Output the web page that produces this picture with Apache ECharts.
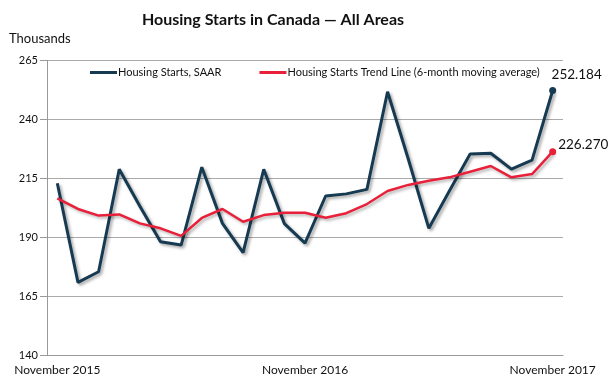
<!DOCTYPE html>
<html>
<head>
<meta charset="utf-8">
<script src="https://cdn.jsdelivr.net/npm/echarts@6/dist/echarts.min.js"></script>
<style>html,body{margin:0;padding:0;background:#fff}#c{width:610px;height:385px}</style>
</head>
<body>
<div id="c"></div>
<script>
const categories = ['Nov 2015','Dec 2015','Jan 2016','Feb 2016','Mar 2016','Apr 2016','May 2016','Jun 2016','Jul 2016','Aug 2016','Sep 2016','Oct 2016','Nov 2016','Dec 2016','Jan 2017','Feb 2017','Mar 2017','Apr 2017','May 2017','Jun 2017','Jul 2017','Aug 2017','Sep 2017','Oct 2017','Nov 2017'];
const xTickLabels = {0:'November 2015', 12:'November 2016', 24:'November 2017'};
const starts = [212.9,170.9,175.4,218.8,203.2,188.1,186.7,219.7,195.9,183.5,218.8,195.8,187.5,207.5,208.4,210.3,251.7,223.3,193.8,209.7,225.3,225.6,218.9,222.7,252.184];
const trend = [206.5,202.0,199.2,199.7,195.9,193.8,190.6,198.2,202.0,196.6,199.4,200.4,200.4,198.3,200.2,204.1,209.6,212.2,214.0,215.4,217.8,220.2,215.4,216.8,226.270];
const yTicks = [140,165,190,215,240,265];

const FONT = 'Lato';
const DARK = '#163a52';
const RED = '#e8203a';

function buildData(arr, color, labelOpt) {
  return arr.map((v, i) => {
    if (i === arr.length - 1) {
      return { value: v, symbol: 'circle', symbolSize: 7, itemStyle: { color: color },
        label: Object.assign({ show: true, formatter: v.toFixed(3), color: '#111', fontFamily: FONT, fontSize: 13.5 }, labelOpt) };
    }
    return { value: v, symbol: 'none' };
  });
}

const chart = echarts.init(document.getElementById('c'), null, { renderer: 'canvas' });
chart.setOption({
  animation: false,
  backgroundColor: '#fff',
  title: {
    text: 'Housing Starts in Canada \u2014 All Areas',
    left: 268, top: 7, textAlign: 'center',
    textStyle: { fontFamily: FONT, fontWeight: 'bold', fontSize: 16, color: '#111' }
  },
  graphic: [{
    type: 'text', left: 9, top: 32,
    style: { text: 'Thousands', fontFamily: FONT, fontSize: 13, fill: '#111' }
  }],
  legend: {
    left: 85, top: 62, itemWidth: 27, itemHeight: 3, itemGap: 38,
    icon: 'rect',
    textStyle: { fontFamily: FONT, fontSize: 11, color: '#111', padding: [0,0,0,-4] },
    data: ['Housing Starts, SAAR', 'Housing Starts Trend Line (6-month moving average)']
  },
  grid: { left: 47, right: 47, top: 60.3, bottom: 29.7, containLabel: false },
  xAxis: {
    type: 'category', data: categories, boundaryGap: true,
    axisLine: { show: true, lineStyle: { color: '#999', width: 1 } },
    axisTick: { show: false },
    axisLabel: {
      interval: 0, margin: 9, fontFamily: FONT, fontSize: 12, color: '#111',
      formatter: (v, i) => xTickLabels[i] || ''
    },
    splitLine: { show: false }
  },
  yAxis: {
    type: 'value', min: yTicks[0], max: yTicks[yTicks.length-1], interval: 25,
    axisLine: { show: true, lineStyle: { color: '#999', width: 1 } },
    axisTick: { show: true, length: 7, lineStyle: { color: '#999' } },
    axisLabel: { margin: 9, fontFamily: FONT, fontSize: 11, color: '#111' },
    splitLine: { show: true, lineStyle: { color: '#aaa', width: 1 } }
  },
  series: [
    {
      name: 'Housing Starts, SAAR', type: 'line', color: DARK,
      data: buildData(starts, DARK, { position: 'top', offset: [24, 0] }),
      lineStyle: { width: 3, color: DARK, shadowColor: 'rgba(0,0,0,0.35)', shadowBlur: 3, shadowOffsetX: 2, shadowOffsetY: 2 },
      z: 2
    },
    {
      name: 'Housing Starts Trend Line (6-month moving average)', type: 'line', color: RED,
      data: buildData(trend, RED, { position: 'right', offset: [-3, -7] }),
      lineStyle: { width: 2.5, color: RED, shadowColor: 'rgba(0,0,0,0.3)', shadowBlur: 3, shadowOffsetX: 2, shadowOffsetY: 2 },
      z: 3
    }
  ]
});
</script>
</body>
</html>
